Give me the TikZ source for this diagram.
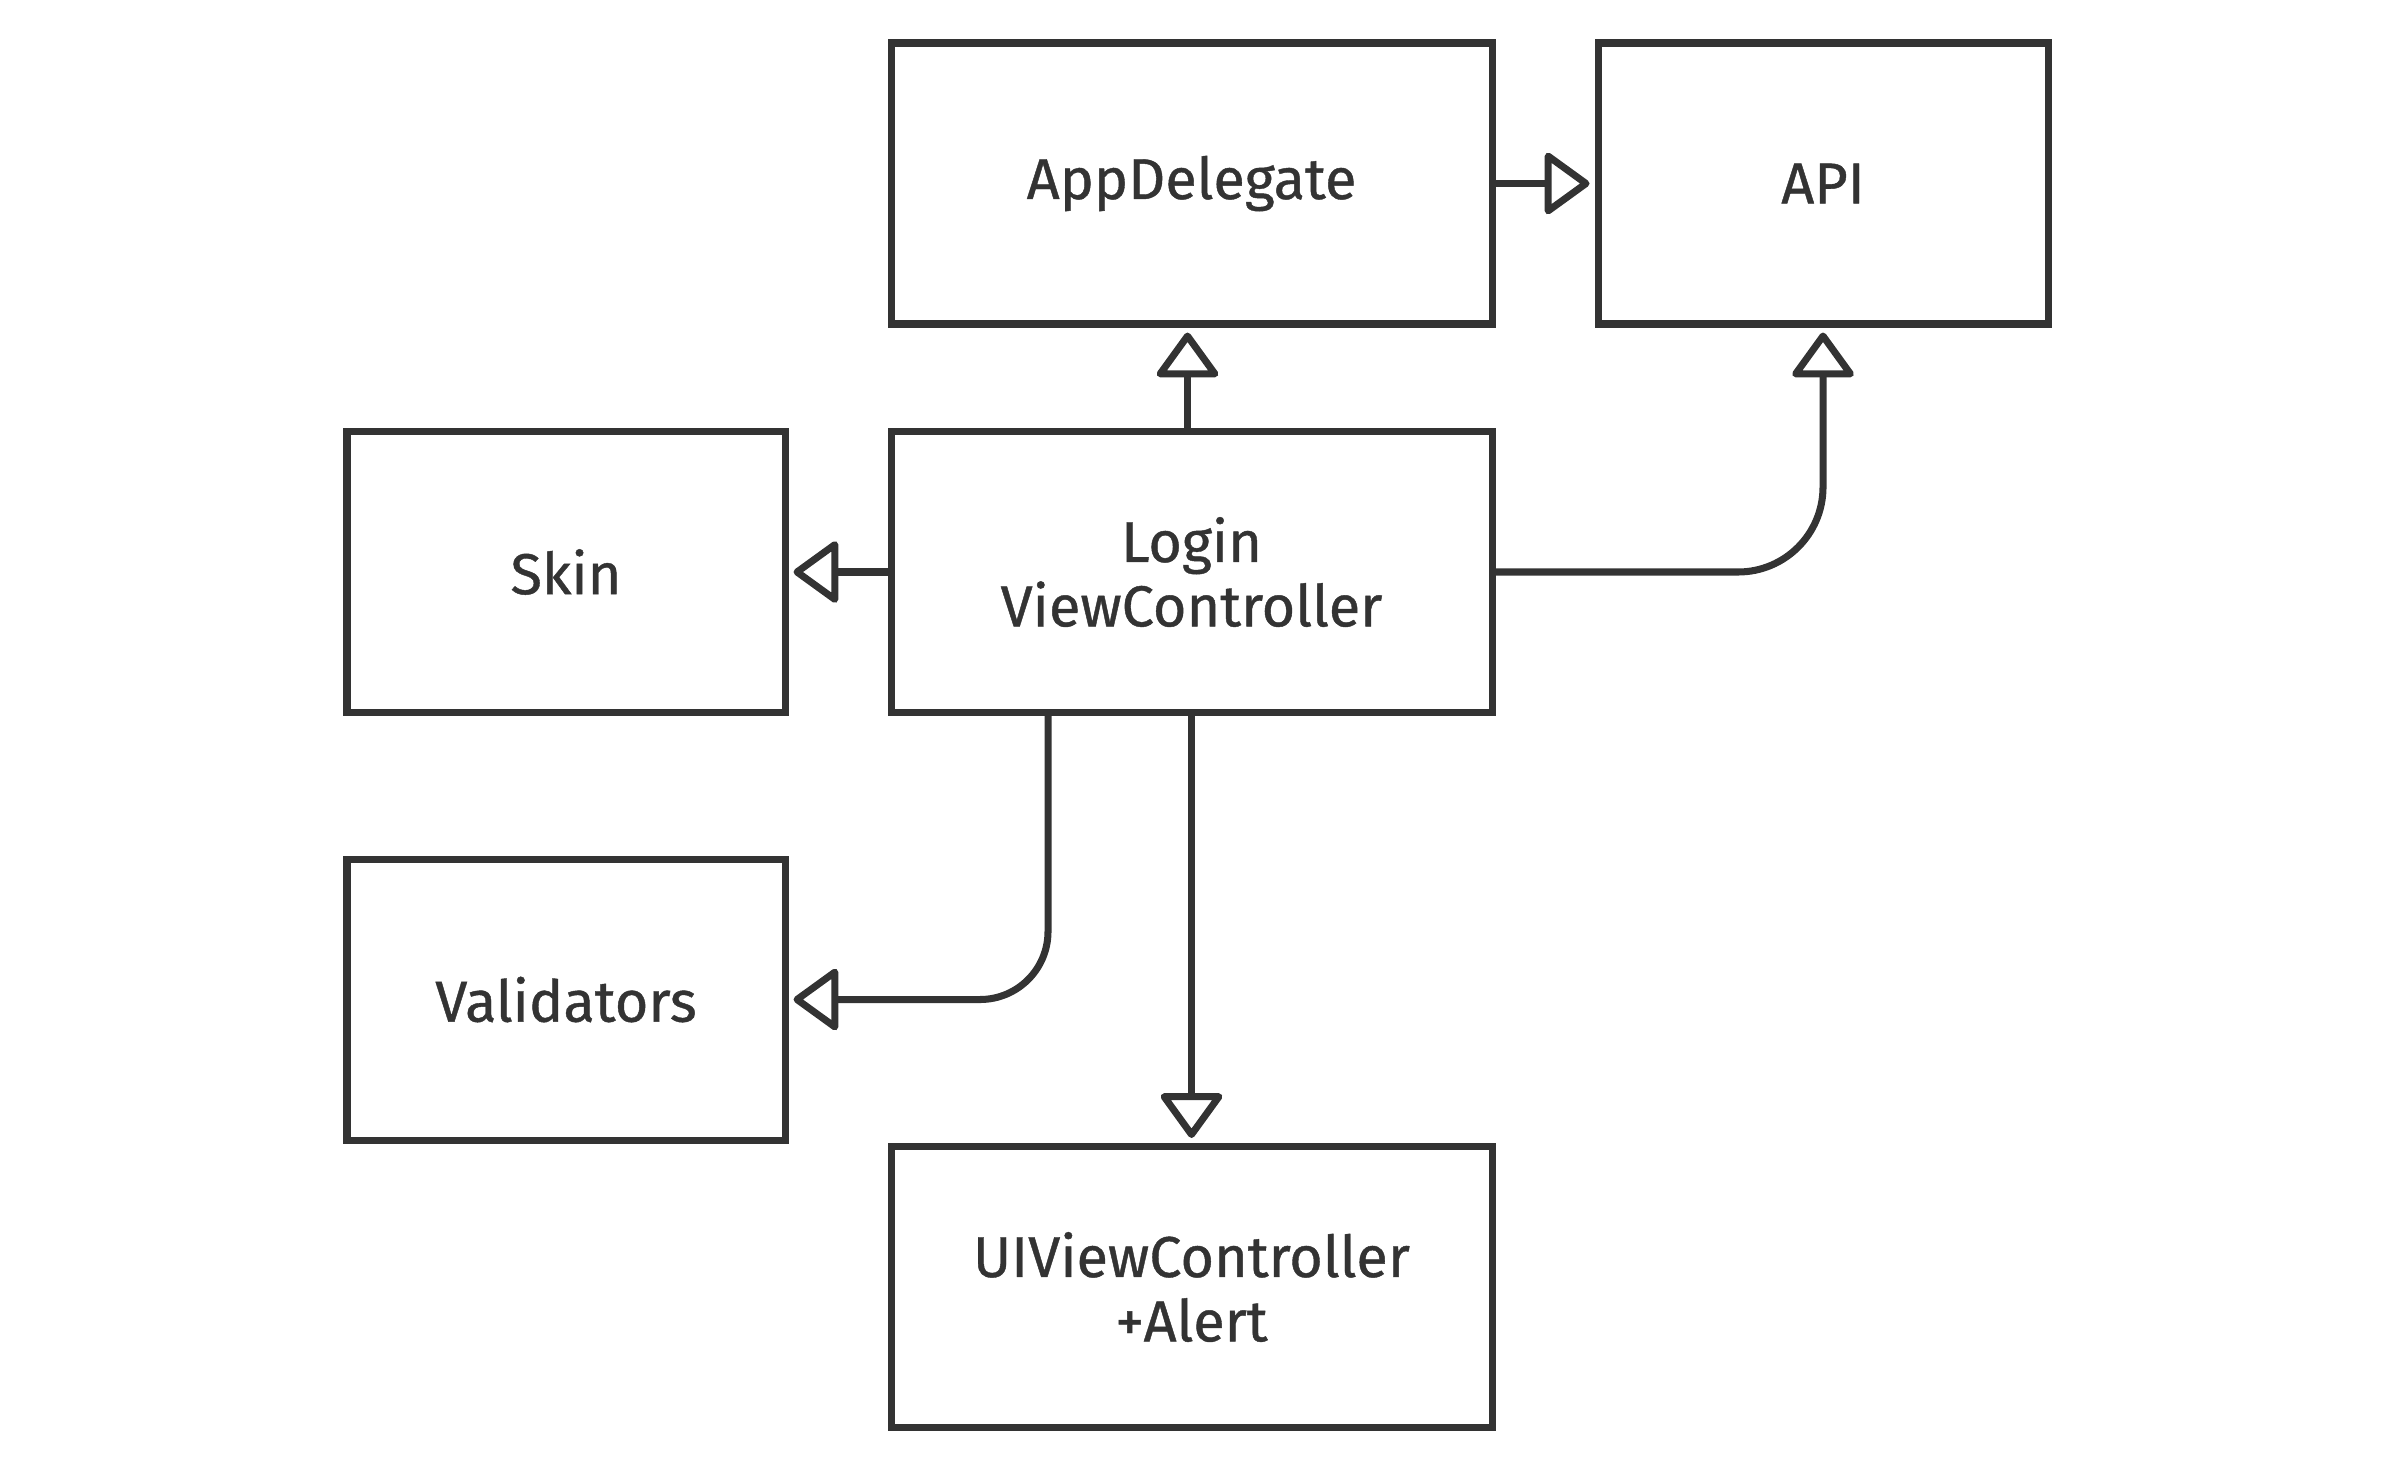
\documentclass[tikz,border=0pt]{standalone}
\usepackage{fontspec}
\setmainfont{Fira Sans}[FakeBold=0.7]
\usepackage{tikz}
\usetikzlibrary{arrows.meta, positioning}
\definecolor{Ink}{HTML}{333333}

\begin{document}
\begin{tikzpicture}[>={Triangle[open, length=13.5pt, width=19pt, round]},
    font=\fontsize{16.4}{18.3}\selectfont, Ink, line width=2pt,
    box/.style={draw=Ink, text=Ink, rectangle, align=center,
      minimum height=2.81cm},
    link/.style={->, line join=round, shorten >=0.05cm}]
  \useasboundingbox (0,0) rectangle (24,-14.72);
  % Boxes
  \node[box, minimum width=6.01cm] (app) at (11.915,-1.835) {AppDelegate};
  \node[box, minimum width=4.5cm] (api) at (18.23,-1.835) {API};
  \node[box, minimum width=4.38cm] (skin) at (5.66,-5.72) {Skin};
  \node[box, minimum width=6.01cm] (login) at (11.915,-5.72)
    {Login\\ViewController};
  \node[box, minimum width=4.38cm] (valid) at (5.66,-9.995) {Validators};
  \node[box, minimum width=6.01cm] (alert) at (11.915,-12.87)
    {UIViewController\\+Alert};
  % Dependencies
  \draw[link] (app.east) -- (api.west);
  \draw[link] ([xshift=-0.04cm]login.north) -- ([xshift=-0.04cm]app.south);
  \draw[link, rounded corners=0.85cm] (login.east) -| (api.south);
  \draw[link] (login.west) -- (skin.east);
  \draw[link, rounded corners=0.68cm] ([xshift=-1.435cm]login.south)
    |- (valid.east);
  \draw[link] (login.south) -- (alert.north);
\end{tikzpicture}
\end{document}
